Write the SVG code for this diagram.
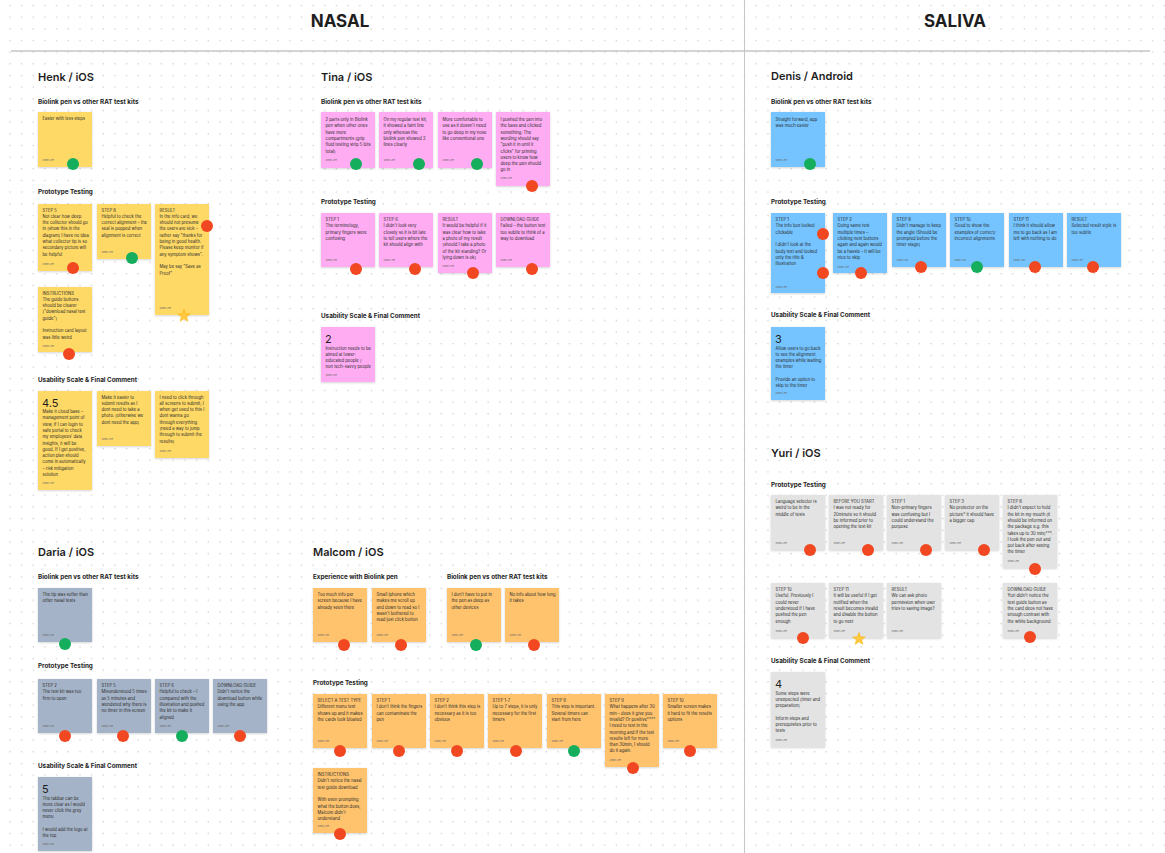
<svg xmlns="http://www.w3.org/2000/svg" width="1165" height="853" viewBox="0 0 1165 853">
<defs>
<pattern id="grid" width="11.66" height="11.66" patternUnits="userSpaceOnUse"><circle cx="10" cy="5.5" r="0.75" fill="#c9c9c9"/></pattern>
<filter id="sh" x="-10%" y="-10%" width="120%" height="130%"><feDropShadow dx="0" dy="0.8" stdDeviation="0.9" flood-color="#000" flood-opacity="0.18"/></filter>
<path id="star" d="M0,-6.5 L1.59,-2.18 L6.18,-2.01 L2.57,0.83 L3.82,5.26 L0,2.7 L-3.82,5.26 L-2.57,0.83 L-6.18,-2.01 L-1.59,-2.18 Z"/>
<style>
text{font-family:Inter,"Liberation Sans",sans-serif}
.h1{font-size:17px;font-weight:700;fill:#1e1e1e;text-anchor:middle}
.nm{font-size:11px;font-weight:600;fill:#1e1e1e}
.sec{font-size:6.3px;font-weight:700;fill:#1e1e1e}
.nt{font-size:4.2px;fill:#2a2a2a}
.num{font-size:11px;fill:#1e1e1e}
.au{font-size:2.6px;fill:#666}
.n{filter:url(#sh)}
.yl{fill:#FFD966}
.pk{fill:#FFACF2}
.bl{fill:#74C4FF}
.gy{fill:#E3E3E3}
.sl{fill:#A5B3C8}
.or{fill:#FFC36E}
.r{fill:#F24822}
.g{fill:#14AE5C}
.st{fill:#FFC943;stroke:#F5B400;stroke-width:0.6;stroke-linejoin:round}
.ln{stroke:#c6c6c6;fill:none}
</style>
</defs>
<rect width="1165" height="853" fill="#fff"/>
<rect width="1165" height="853" fill="url(#grid)"/>
<g id="frame">
<line class="ln" x1="11" y1="51" x2="1150" y2="51" stroke-width="1.5"/>
<line class="ln" x1="744.5" y1="0" x2="744.5" y2="853" stroke-width="1"/>
<text class="h1" x="340" y="27">NASAL</text>
<text class="h1" x="955" y="27">SALIVA</text>
</g>
<g id="connectors"></g>

<!-- HENK -->
<g id="henk-titles">
<text class="nm" x="38" y="81">Henk / iOS</text>
<text class="sec" x="38" y="104">Biolink pen vs other RAT test kits</text>
<text class="sec" x="38" y="194">Prototype Testing</text>
<text class="sec" x="38" y="382">Usability Scale &amp; Final Comment</text>
</g>
<g id="henk-b1"><rect class="n yl" x="38" y="112" width="54" height="55"/>
<text class="nt" x="42.5" y="119.5">Easier with less steps</text>
<text class="au" x="42.5" y="161">Sean Lee</text><circle class="g" cx="73" cy="164" r="6"/></g>
<g id="henk-p1"><rect class="n yl" x="38" y="204" width="54" height="67"/>
<text class="nt" x="42.5" y="211.5"><tspan x="42.5">STEP 5</tspan><tspan x="42.5" dy="6.3">Not clear how deep</tspan><tspan x="42.5" dy="6.3">the collector should go</tspan><tspan x="42.5" dy="6.3">in (show this in the</tspan><tspan x="42.5" dy="6.3">diagram) I have no idea</tspan><tspan x="42.5" dy="6.3">what collector tip is so</tspan><tspan x="42.5" dy="6.3">secondary picture will</tspan><tspan x="42.5" dy="6.3">be helpful</tspan></text>
<text class="au" x="42.5" y="265">Sean Lee</text><circle class="r" cx="73" cy="268" r="6"/></g>
<g id="henk-p2"><rect class="n yl" x="97" y="204" width="54" height="55"/>
<text class="nt" x="101.5" y="211.5"><tspan x="101.5">STEP 8</tspan><tspan x="101.5" dy="6.3">Helpful to check the</tspan><tspan x="101.5" dy="6.3">correct alignment – the</tspan><tspan x="101.5" dy="6.3">seal is popped when</tspan><tspan x="101.5" dy="6.3">alignment is correct</tspan></text>
<text class="au" x="101.5" y="253">Sean Lee</text><circle class="g" cx="132" cy="258" r="6"/></g>
<g id="henk-p3"><rect class="n yl" x="155" y="204" width="54" height="111"/>
<text class="nt" x="159.5" y="211.5"><tspan x="159.5">RESULT</tspan><tspan x="159.5" dy="6.3">In the info card, we</tspan><tspan x="159.5" dy="6.3">should not presume</tspan><tspan x="159.5" dy="6.3">the users are sick –</tspan><tspan x="159.5" dy="6.3">rather say "thanks for</tspan><tspan x="159.5" dy="6.3">being in good health.</tspan><tspan x="159.5" dy="6.3">Please keep monitor if</tspan><tspan x="159.5" dy="6.3">any symptom shows".</tspan><tspan x="159.5" dy="12.6">May be say "Save as</tspan><tspan x="159.5" dy="6.3">Proof"</tspan></text>
<text class="au" x="159.5" y="309">Sean Lee</text><circle class="r" cx="207" cy="226" r="6"/><use href="#star" class="st" x="184" y="316"/></g>
<g id="henk-i"><rect class="n yl" x="38" y="287" width="54" height="65"/>
<text class="nt" x="42.5" y="294.5"><tspan x="42.5">INSTRUCTIONS</tspan><tspan x="42.5" dy="6.3">The guide buttons</tspan><tspan x="42.5" dy="6.3">should be clearer</tspan><tspan x="42.5" dy="6.3">("download nasal test</tspan><tspan x="42.5" dy="6.3">guide")</tspan><tspan x="42.5" dy="12.6">Instruction card layout</tspan><tspan x="42.5" dy="6.3">was little weird</tspan></text>
<text class="au" x="42.5" y="347">Sean Lee</text><circle class="r" cx="69" cy="354" r="6"/></g>
<g id="henk-u1"><rect class="n yl" x="38" y="391" width="54" height="99"/>
<text class="num" x="42" y="407">4.5</text>
<text class="nt" x="42.5" y="413"><tspan x="42.5">Make it cloud base –</tspan><tspan x="42.5" dy="6.3">management point of</tspan><tspan x="42.5" dy="6.3">view, if I can login to</tspan><tspan x="42.5" dy="6.3">safe portal to check</tspan><tspan x="42.5" dy="6.3">my employees' data</tspan><tspan x="42.5" dy="6.3">insights, it will be</tspan><tspan x="42.5" dy="6.3">good. If I get positive,</tspan><tspan x="42.5" dy="6.3">action plan should</tspan><tspan x="42.5" dy="6.3">come in automatically</tspan><tspan x="42.5" dy="6.3">– risk mitigation</tspan><tspan x="42.5" dy="6.3">solution</tspan></text>
<text class="au" x="42.5" y="484">Sean Lee</text></g>
<g id="henk-u2"><rect class="n yl" x="97" y="391" width="54" height="55"/>
<text class="nt" x="101.5" y="398.5"><tspan x="101.5">Make it easier to</tspan><tspan x="101.5" dy="6.3">submit results as I</tspan><tspan x="101.5" dy="6.3">dont need to take a</tspan><tspan x="101.5" dy="6.3">photo. (otherwise we</tspan><tspan x="101.5" dy="6.3">dont need the app)</tspan></text>
<text class="au" x="101.5" y="440">Sean Lee</text></g>
<g id="henk-u3"><rect class="n yl" x="155" y="391" width="54" height="67"/>
<text class="nt" x="159.5" y="398.5"><tspan x="159.5">I need to click through</tspan><tspan x="159.5" dy="6.3">all screens to submit; I</tspan><tspan x="159.5" dy="6.3">when get used to this I</tspan><tspan x="159.5" dy="6.3">dont wanna go</tspan><tspan x="159.5" dy="6.3">through everything</tspan><tspan x="159.5" dy="6.3">(need a way to jump</tspan><tspan x="159.5" dy="6.3">through to submit the</tspan><tspan x="159.5" dy="6.3">results)</tspan></text>
<text class="au" x="159.5" y="452">Sean Lee</text></g>

<!-- TINA -->
<g id="tina-titles">
<text class="nm" x="321" y="81">Tina / iOS</text>
<text class="sec" x="321" y="104">Biolink pen vs other RAT test kits</text>
<text class="sec" x="321" y="204">Prototype Testing</text>
<text class="sec" x="321" y="318">Usability Scale &amp; Final Comment</text>
</g>
<g id="tina-b1"><rect class="n pk" x="321" y="112" width="54" height="56"/>
<text class="nt" x="325.5" y="121"><tspan x="325.5">2 parts only in Biolink</tspan><tspan x="325.5" dy="6.3">pen when other ones</tspan><tspan x="325.5" dy="6.3">have more</tspan><tspan x="325.5" dy="6.3">compartments (grip</tspan><tspan x="325.5" dy="6.3">fluid testing strip 5 bits</tspan><tspan x="325.5" dy="6.3">total)</tspan></text>
<text class="au" x="325.5" y="161">Sean Lee</text><circle class="g" cx="356" cy="164" r="6"/></g>
<g id="tina-b2"><rect class="n pk" x="379" y="112" width="54" height="56"/>
<text class="nt" x="383.5" y="121"><tspan x="383.5">On my regular test kit,</tspan><tspan x="383.5" dy="6.3">it showed a faint line</tspan><tspan x="383.5" dy="6.3">only whereas the</tspan><tspan x="383.5" dy="6.3">biolink pen showed 2</tspan><tspan x="383.5" dy="6.3">lines clearly</tspan></text>
<text class="au" x="383.5" y="161">Sean Lee</text><circle class="g" cx="419" cy="164" r="6"/></g>
<g id="tina-b3"><rect class="n pk" x="438" y="112" width="54" height="56"/>
<text class="nt" x="442.5" y="121"><tspan x="442.5">More comfortable to</tspan><tspan x="442.5" dy="6.3">use as it doesn't need</tspan><tspan x="442.5" dy="6.3">to go deep in my nose</tspan><tspan x="442.5" dy="6.3">like conventional one</tspan></text>
<text class="au" x="442.5" y="161">Sean Lee</text><circle class="g" cx="477" cy="164" r="6"/></g>
<g id="tina-b4"><rect class="n pk" x="496" y="112" width="54" height="74"/>
<text class="nt" x="500.5" y="121"><tspan x="500.5">I pushed the pen into</tspan><tspan x="500.5" dy="6.3">the base and clicked</tspan><tspan x="500.5" dy="6.3">something. The</tspan><tspan x="500.5" dy="6.3">wording should say</tspan><tspan x="500.5" dy="6.3">"push it in until it</tspan><tspan x="500.5" dy="6.3">clicks" for priming</tspan><tspan x="500.5" dy="6.3">users to know how</tspan><tspan x="500.5" dy="6.3">deep the pen should</tspan><tspan x="500.5" dy="6.3">go in</tspan></text>
<text class="au" x="500.5" y="179">Sean Lee</text><circle class="r" cx="532" cy="186" r="6"/></g>
<g id="tina-p1"><rect class="n pk" x="321" y="213" width="54" height="54"/>
<text class="nt" x="325.5" y="221"><tspan x="325.5">STEP 1</tspan><tspan x="325.5" dy="6.3">The terminology,</tspan><tspan x="325.5" dy="6.3">primary fingers were</tspan><tspan x="325.5" dy="6.3">confusing</tspan></text>
<text class="au" x="325.5" y="261">Sean Lee</text><circle class="r" cx="356" cy="269" r="6"/></g>
<g id="tina-p2"><rect class="n pk" x="379" y="213" width="54" height="54"/>
<text class="nt" x="383.5" y="221"><tspan x="383.5">STEP 6</tspan><tspan x="383.5" dy="6.3">I didn't look very</tspan><tspan x="383.5" dy="6.3">closely so it is bit late</tspan><tspan x="383.5" dy="6.3">to tell users where the</tspan><tspan x="383.5" dy="6.3">kit should align with</tspan></text>
<text class="au" x="383.5" y="261">Sean Lee</text><circle class="r" cx="415" cy="269" r="6"/></g>
<g id="tina-p3"><rect class="n pk" x="438" y="213" width="54" height="60"/>
<text class="nt" x="442.5" y="221"><tspan x="442.5">RESULT</tspan><tspan x="442.5" dy="6.3">It would be helpful if it</tspan><tspan x="442.5" dy="6.3">was clear how to take</tspan><tspan x="442.5" dy="6.3">a photo of my result</tspan><tspan x="442.5" dy="6.3">(should I take a photo</tspan><tspan x="442.5" dy="6.3">of the kit standing? Or</tspan><tspan x="442.5" dy="6.3">lying down is ok)</tspan></text>
<text class="au" x="442.5" y="267">Sean Lee</text><circle class="r" cx="473" cy="273" r="6"/></g>
<g id="tina-p4"><rect class="n pk" x="496" y="213" width="54" height="54"/>
<text class="nt" x="500.5" y="221"><tspan x="500.5">DOWNLOAD GUIDE</tspan><tspan x="500.5" dy="6.3">Failed – the button text</tspan><tspan x="500.5" dy="6.3">too subtle to think of a</tspan><tspan x="500.5" dy="6.3">way to download</tspan></text>
<text class="au" x="500.5" y="261">Sean Lee</text><circle class="r" cx="532" cy="269" r="6"/></g>
<g id="tina-u"><rect class="n pk" x="321" y="327" width="54" height="55"/>
<text class="num" x="325" y="343">2</text>
<text class="nt" x="325.5" y="349.5"><tspan x="325.5">Instruction needs to be</tspan><tspan x="325.5" dy="6.3">aimed at lower-</tspan><tspan x="325.5" dy="6.3">educated people /</tspan><tspan x="325.5" dy="6.3">non tech-savvy people</tspan></text>
<text class="au" x="325.5" y="376">Sean Lee</text></g>

<!-- DENIS -->
<g id="denis-titles">
<text class="nm" x="771" y="80">Denis / Android</text>
<text class="sec" x="771" y="104">Biolink pen vs other RAT test kits</text>
<text class="sec" x="771" y="204">Prototype Testing</text>
<text class="sec" x="771" y="317">Usability Scale &amp; Final Comment</text>
</g>
<g id="denis-b"><rect class="n bl" x="771" y="112" width="54" height="55"/>
<text class="nt" x="775.5" y="121"><tspan x="775.5">Straight forward, app</tspan><tspan x="775.5" dy="6.3">was much easier</tspan></text>
<text class="au" x="775.5" y="161">Sean Lee</text><circle class="g" cx="810" cy="164" r="6"/></g>
<g id="denis-p1"><rect class="n bl" x="771" y="213" width="54" height="80"/>
<text class="nt" x="775.5" y="221"><tspan x="775.5">STEP 1</tspan><tspan x="775.5" dy="6.3">The info box looked</tspan><tspan x="775.5" dy="6.3">clickable</tspan><tspan x="775.5" dy="12.6">I didn't look at the</tspan><tspan x="775.5" dy="6.3">body text and looked</tspan><tspan x="775.5" dy="6.3">only the title &amp;</tspan><tspan x="775.5" dy="6.3">illustration</tspan></text>
<text class="au" x="775.5" y="288">Sean Lee</text><circle class="r" cx="823" cy="234" r="6"/><circle class="r" cx="823" cy="273" r="6"/></g>
<g id="denis-p2"><rect class="n bl" x="833" y="213" width="54" height="60"/>
<text class="nt" x="837.5" y="221"><tspan x="837.5">STEP 2</tspan><tspan x="837.5" dy="6.3">Doing same test</tspan><tspan x="837.5" dy="6.3">multiple times –</tspan><tspan x="837.5" dy="6.3">clicking next buttons</tspan><tspan x="837.5" dy="6.3">again and again would</tspan><tspan x="837.5" dy="6.3">be a hassle – it will be</tspan><tspan x="837.5" dy="6.3">nice to skip</tspan></text>
<text class="au" x="837.5" y="268">Sean Lee</text><circle class="r" cx="861" cy="273" r="6"/></g>
<g id="denis-p3"><rect class="n bl" x="892" y="213" width="54" height="54"/>
<text class="nt" x="896.5" y="221"><tspan x="896.5">STEP 8</tspan><tspan x="896.5" dy="6.3">Didn't manage to keep</tspan><tspan x="896.5" dy="6.3">the angle (Should be</tspan><tspan x="896.5" dy="6.3">prompted before the</tspan><tspan x="896.5" dy="6.3">timer stage)</tspan></text>
<text class="au" x="896.5" y="261">Sean Lee</text><circle class="r" cx="921" cy="267" r="6"/></g>
<g id="denis-p4"><rect class="n bl" x="950" y="213" width="54" height="54"/>
<text class="nt" x="954.5" y="221"><tspan x="954.5">STEP 10</tspan><tspan x="954.5" dy="6.3">Good to show the</tspan><tspan x="954.5" dy="6.3">examples of correct/</tspan><tspan x="954.5" dy="6.3">incorrect alignments</tspan></text>
<text class="au" x="954.5" y="261">Sean Lee</text><circle class="g" cx="977" cy="267" r="6"/></g>
<g id="denis-p5"><rect class="n bl" x="1009" y="213" width="54" height="54"/>
<text class="nt" x="1013.5" y="221"><tspan x="1013.5">STEP 11</tspan><tspan x="1013.5" dy="6.3">I think it should allow</tspan><tspan x="1013.5" dy="6.3">me to go back as I am</tspan><tspan x="1013.5" dy="6.3">left with nothing to do</tspan></text>
<text class="au" x="1013.5" y="261">Sean Lee</text><circle class="r" cx="1035" cy="267" r="6"/></g>
<g id="denis-p6"><rect class="n bl" x="1067" y="213" width="54" height="54"/>
<text class="nt" x="1071.5" y="221"><tspan x="1071.5">RESULT</tspan><tspan x="1071.5" dy="6.3">Selected result style is</tspan><tspan x="1071.5" dy="6.3">too subtle</tspan></text>
<text class="au" x="1071.5" y="261">Sean Lee</text><circle class="r" cx="1093" cy="267" r="6"/></g>
<g id="denis-u"><rect class="n bl" x="771" y="327" width="54" height="73"/>
<text class="num" x="775" y="343">3</text>
<text class="nt" x="775.5" y="349.5"><tspan x="775.5">Allow users to go back</tspan><tspan x="775.5" dy="6.3">to see the alignment</tspan><tspan x="775.5" dy="6.3">examples while waiting</tspan><tspan x="775.5" dy="6.3">the timer</tspan><tspan x="775.5" dy="12.6">Provide an option to</tspan><tspan x="775.5" dy="6.3">skip to the timer</tspan></text>
<text class="au" x="775.5" y="394">Sean Lee</text></g>

<!-- YURI -->
<g id="yuri-titles">
<text class="nm" x="771" y="457">Yuri / iOS</text>
<text class="sec" x="771" y="487">Prototype Testing</text>
<text class="sec" x="771" y="663">Usability Scale &amp; Final Comment</text>
</g>
<g id="yuri-1"><rect class="n gy" x="771" y="495" width="54" height="55"/>
<text class="nt" x="775.5" y="503"><tspan x="775.5">Language selector is</tspan><tspan x="775.5" dy="6.3">weird to be in the</tspan><tspan x="775.5" dy="6.3">middle of tests</tspan></text>
<text class="au" x="775.5" y="544">Sean Lee</text><circle class="r" cx="810" cy="550" r="6"/></g>
<g id="yuri-2"><rect class="n gy" x="829" y="495" width="54" height="55"/>
<text class="nt" x="833.5" y="503"><tspan x="833.5">BEFORE YOU START</tspan><tspan x="833.5" dy="6.3">I was not ready for</tspan><tspan x="833.5" dy="6.3">20minute so it should</tspan><tspan x="833.5" dy="6.3">be informed prior to</tspan><tspan x="833.5" dy="6.3">opening the test kit</tspan></text>
<text class="au" x="833.5" y="544">Sean Lee</text><circle class="r" cx="868" cy="550" r="6"/></g>
<g id="yuri-3"><rect class="n gy" x="887" y="495" width="54" height="55"/>
<text class="nt" x="891.5" y="503"><tspan x="891.5">STEP 1</tspan><tspan x="891.5" dy="6.3">Non-primary fingers</tspan><tspan x="891.5" dy="6.3">was confusing but I</tspan><tspan x="891.5" dy="6.3">could understand the</tspan><tspan x="891.5" dy="6.3">purpose</tspan></text>
<text class="au" x="891.5" y="544">Sean Lee</text><circle class="r" cx="926" cy="550" r="6"/></g>
<g id="yuri-4"><rect class="n gy" x="945" y="495" width="54" height="55"/>
<text class="nt" x="949.5" y="503"><tspan x="949.5">STEP 3</tspan><tspan x="949.5" dy="6.3">No protector on the</tspan><tspan x="949.5" dy="6.3">picture* it should have</tspan><tspan x="949.5" dy="6.3">a bigger cap</tspan></text>
<text class="au" x="949.5" y="544">Sean Lee</text><circle class="r" cx="984" cy="550" r="6"/></g>
<g id="yuri-5"><rect class="n gy" x="1003" y="495" width="54" height="73"/>
<text class="nt" x="1007.5" y="503"><tspan x="1007.5">STEP 8</tspan><tspan x="1007.5" dy="6.3">I didn't expect to hold</tspan><tspan x="1007.5" dy="6.3">the kit in my mouth (it</tspan><tspan x="1007.5" dy="6.3">should be informed on</tspan><tspan x="1007.5" dy="6.3">the package e.g. this</tspan><tspan x="1007.5" dy="6.3">takes up to 30 min)***.</tspan><tspan x="1007.5" dy="6.3">I took the pen out and</tspan><tspan x="1007.5" dy="6.3">put back after seeing</tspan><tspan x="1007.5" dy="6.3">the timer</tspan></text>
<text class="au" x="1007.5" y="562">Sean Lee</text><circle class="r" cx="1035" cy="569" r="6"/></g>
<g id="yuri-6"><rect class="n gy" x="771" y="583" width="54" height="55"/>
<text class="nt" x="775.5" y="591"><tspan x="775.5">STEP 10</tspan><tspan x="775.5" dy="6.3">Useful. Previously I</tspan><tspan x="775.5" dy="6.3">could never</tspan><tspan x="775.5" dy="6.3">understood if I have</tspan><tspan x="775.5" dy="6.3">pushed the pen</tspan><tspan x="775.5" dy="6.3">enough</tspan></text>
<text class="au" x="775.5" y="632">Sean Lee</text><circle class="r" cx="803" cy="638" r="6"/></g>
<g id="yuri-7"><rect class="n gy" x="829" y="583" width="54" height="55"/>
<text class="nt" x="833.5" y="591"><tspan x="833.5">STEP 11</tspan><tspan x="833.5" dy="6.3">It will be useful if I get</tspan><tspan x="833.5" dy="6.3">notified when the</tspan><tspan x="833.5" dy="6.3">result becomes invalid</tspan><tspan x="833.5" dy="6.3">and disable the button</tspan><tspan x="833.5" dy="6.3">to go next</tspan></text>
<text class="au" x="833.5" y="632">Sean Lee</text><use href="#star" class="st" x="859" y="639"/></g>
<g id="yuri-8"><rect class="n gy" x="887" y="583" width="54" height="55"/>
<text class="nt" x="891.5" y="591"><tspan x="891.5">RESULT</tspan><tspan x="891.5" dy="6.3">We can ask photo</tspan><tspan x="891.5" dy="6.3">permission when user</tspan><tspan x="891.5" dy="6.3">tries to saving image?</tspan></text>
<text class="au" x="891.5" y="632">Sean Lee</text></g>
<g id="yuri-9"><rect class="n gy" x="1003" y="583" width="54" height="55"/>
<text class="nt" x="1007.5" y="591"><tspan x="1007.5">DOWNLOAD GUIDE</tspan><tspan x="1007.5" dy="6.3">Yuri didn't notice the</tspan><tspan x="1007.5" dy="6.3">test guide button as</tspan><tspan x="1007.5" dy="6.3">the card deos not have</tspan><tspan x="1007.5" dy="6.3">enough contrast with</tspan><tspan x="1007.5" dy="6.3">the white background</tspan></text>
<text class="au" x="1007.5" y="632">Sean Lee</text><circle class="r" cx="1030" cy="637" r="6"/></g>
<g id="yuri-u"><rect class="n gy" x="771" y="672" width="54" height="75"/>
<text class="num" x="775" y="688">4</text>
<text class="nt" x="775.5" y="694.5"><tspan x="775.5">Some steps were</tspan><tspan x="775.5" dy="6.3">unexpected (timer and</tspan><tspan x="775.5" dy="6.3">preparation)</tspan><tspan x="775.5" dy="12.6">Inform steps and</tspan><tspan x="775.5" dy="6.3">prerequisites prior to</tspan><tspan x="775.5" dy="6.3">tests</tspan></text>
<text class="au" x="775.5" y="741">Sean Lee</text></g>

<!-- DARIA -->
<g id="daria-titles">
<text class="nm" x="38" y="556">Daria / iOS</text>
<text class="sec" x="38" y="579">Biolink pen vs other RAT test kits</text>
<text class="sec" x="38" y="668">Prototype Testing</text>
<text class="sec" x="38" y="768">Usability Scale &amp; Final Comment</text>
</g>
<g id="daria-b"><rect class="n sl" x="38" y="588" width="54" height="54"/>
<text class="nt" x="42.5" y="596"><tspan x="42.5">The tip was softer than</tspan><tspan x="42.5" dy="6.3">other nasal tests</tspan></text>
<text class="au" x="42.5" y="636">Sean Lee</text><circle class="g" cx="65" cy="644" r="6"/></g>
<g id="daria-p1"><rect class="n sl" x="38" y="679" width="54" height="54"/>
<text class="nt" x="42.5" y="687"><tspan x="42.5">STEP 2</tspan><tspan x="42.5" dy="6.3">The test kit was too</tspan><tspan x="42.5" dy="6.3">firm to open</tspan></text>
<text class="au" x="42.5" y="727">Sean Lee</text><circle class="r" cx="65" cy="736" r="6"/></g>
<g id="daria-p2"><rect class="n sl" x="97" y="679" width="54" height="54"/>
<text class="nt" x="101.5" y="687"><tspan x="101.5">STEP 5</tspan><tspan x="101.5" dy="6.3">Misunderstood 5 times</tspan><tspan x="101.5" dy="6.3">as 5 minutes and</tspan><tspan x="101.5" dy="6.3">wondered why there is</tspan><tspan x="101.5" dy="6.3">no timer in this screen</tspan></text>
<text class="au" x="101.5" y="727">Sean Lee</text><circle class="r" cx="123" cy="736" r="6"/></g>
<g id="daria-p3"><rect class="n sl" x="155" y="679" width="54" height="54"/>
<text class="nt" x="159.5" y="687"><tspan x="159.5">STEP 6</tspan><tspan x="159.5" dy="6.3">Helpful to check – I</tspan><tspan x="159.5" dy="6.3">compared with the</tspan><tspan x="159.5" dy="6.3">illustration and pushed</tspan><tspan x="159.5" dy="6.3">the kit to make it</tspan><tspan x="159.5" dy="6.3">aligned</tspan></text>
<text class="au" x="159.5" y="727">Sean Lee</text><circle class="g" cx="182" cy="736" r="6"/></g>
<g id="daria-p4"><rect class="n sl" x="213" y="679" width="54" height="54"/>
<text class="nt" x="217.5" y="687"><tspan x="217.5">DOWNLOAD GUIDE</tspan><tspan x="217.5" dy="6.3">Didn't notice the</tspan><tspan x="217.5" dy="6.3">download button while</tspan><tspan x="217.5" dy="6.3">using the app</tspan></text>
<text class="au" x="217.5" y="727">Sean Lee</text><circle class="r" cx="240" cy="736" r="6"/></g>
<g id="daria-u"><rect class="n sl" x="38" y="777" width="54" height="74"/>
<text class="num" x="42" y="793">5</text>
<text class="nt" x="42.5" y="799.5"><tspan x="42.5">The tabbar can be</tspan><tspan x="42.5" dy="6.3">more clear as I would</tspan><tspan x="42.5" dy="6.3">never click the grey</tspan><tspan x="42.5" dy="6.3">menu</tspan><tspan x="42.5" dy="12.6">I would add the logo at</tspan><tspan x="42.5" dy="6.3">the top</tspan></text>
<text class="au" x="42.5" y="845">Sean Lee</text></g>

<!-- MALCOM -->
<g id="malcom-titles">
<text class="nm" x="313" y="556">Malcom / iOS</text>
<text class="sec" x="313" y="579">Experience with Biolink pen</text>
<text class="sec" x="447" y="579">Biolink pen vs other RAT test kits</text>
<text class="sec" x="313" y="685">Prototype Testing</text>
</g>
<g id="malcom-e1"><rect class="n or" x="313" y="588" width="54" height="54"/>
<text class="nt" x="317.5" y="596"><tspan x="317.5">Too much info per</tspan><tspan x="317.5" dy="6.3">screen because I have</tspan><tspan x="317.5" dy="6.3">already seen there</tspan></text>
<text class="au" x="317.5" y="636">Sean Lee</text><circle class="r" cx="344" cy="645" r="6"/></g>
<g id="malcom-e2"><rect class="n or" x="372" y="588" width="54" height="54"/>
<text class="nt" x="376.5" y="596"><tspan x="376.5">Small iphone which</tspan><tspan x="376.5" dy="6.3">makes me scroll up</tspan><tspan x="376.5" dy="6.3">and down to read so I</tspan><tspan x="376.5" dy="6.3">wasn't bothered to</tspan><tspan x="376.5" dy="6.3">read just click button</tspan></text>
<text class="au" x="376.5" y="636">Sean Lee</text><circle class="r" cx="401" cy="645" r="6"/></g>
<g id="malcom-b1"><rect class="n or" x="447" y="588" width="54" height="54"/>
<text class="nt" x="451.5" y="596"><tspan x="451.5">I don't have to put in</tspan><tspan x="451.5" dy="6.3">the pen as deep  as</tspan><tspan x="451.5" dy="6.3">other devices</tspan></text>
<text class="au" x="451.5" y="636">Sean Lee</text><circle class="g" cx="476" cy="645" r="6"/></g>
<g id="malcom-b2"><rect class="n or" x="505" y="588" width="54" height="54"/>
<text class="nt" x="509.5" y="596"><tspan x="509.5">No info about how long</tspan><tspan x="509.5" dy="6.3">it takes</tspan></text>
<text class="au" x="509.5" y="636">Sean Lee</text><circle class="r" cx="534" cy="645" r="6"/></g>
<g id="malcom-p1"><rect class="n or" x="313" y="694" width="54" height="54"/>
<text class="nt" x="317.5" y="702"><tspan x="317.5">SELECT A TEST TYPE</tspan><tspan x="317.5" dy="6.3">Different menu text</tspan><tspan x="317.5" dy="6.3">shows up and it makes</tspan><tspan x="317.5" dy="6.3">the cards look bloated</tspan></text>
<text class="au" x="317.5" y="742">Sean Lee</text><circle class="r" cx="340" cy="751" r="6"/></g>
<g id="malcom-p2"><rect class="n or" x="372" y="694" width="54" height="54"/>
<text class="nt" x="376.5" y="702"><tspan x="376.5">STEP 1</tspan><tspan x="376.5" dy="6.3">I don't think the fingers</tspan><tspan x="376.5" dy="6.3">can contaminate the</tspan><tspan x="376.5" dy="6.3">pen</tspan></text>
<text class="au" x="376.5" y="742">Sean Lee</text><circle class="r" cx="399" cy="751" r="6"/></g>
<g id="malcom-p3"><rect class="n or" x="430" y="694" width="54" height="54"/>
<text class="nt" x="434.5" y="702"><tspan x="434.5">STEP 2</tspan><tspan x="434.5" dy="6.3">I don't think this step is</tspan><tspan x="434.5" dy="6.3">necessary as it is too</tspan><tspan x="434.5" dy="6.3">obvious</tspan></text>
<text class="au" x="434.5" y="742">Sean Lee</text><circle class="r" cx="457" cy="751" r="6"/></g>
<g id="malcom-p4"><rect class="n or" x="488" y="694" width="54" height="54"/>
<text class="nt" x="492.5" y="702"><tspan x="492.5">STEP 1-7</tspan><tspan x="492.5" dy="6.3">Up to 7 steps, it is only</tspan><tspan x="492.5" dy="6.3">necessary for the first</tspan><tspan x="492.5" dy="6.3">timers</tspan></text>
<text class="au" x="492.5" y="742">Sean Lee</text><circle class="r" cx="516" cy="751" r="6"/></g>
<g id="malcom-p5"><rect class="n or" x="547" y="694" width="54" height="54"/>
<text class="nt" x="551.5" y="702"><tspan x="551.5">STEP 9</tspan><tspan x="551.5" dy="6.3">This step is important.</tspan><tspan x="551.5" dy="6.3">Several timers can</tspan><tspan x="551.5" dy="6.3">start from here</tspan></text>
<text class="au" x="551.5" y="742">Sean Lee</text><circle class="g" cx="574" cy="751" r="6"/></g>
<g id="malcom-p6"><rect class="n or" x="605" y="694" width="54" height="73"/>
<text class="nt" x="609.5" y="702"><tspan x="609.5">STEP 9</tspan><tspan x="609.5" dy="6.3">What happens after 30</tspan><tspan x="609.5" dy="6.3">min – does it give you</tspan><tspan x="609.5" dy="6.3">invalid? Or positive****</tspan><tspan x="609.5" dy="6.3">I need to test in the</tspan><tspan x="609.5" dy="6.3">morning and if the test</tspan><tspan x="609.5" dy="6.3">results left for more</tspan><tspan x="609.5" dy="6.3">than 30min, I should</tspan><tspan x="609.5" dy="6.3">do it again.</tspan></text>
<text class="au" x="609.5" y="761">Sean Lee</text><circle class="r" cx="633" cy="768" r="6"/></g>
<g id="malcom-p7"><rect class="n or" x="663" y="694" width="54" height="54"/>
<text class="nt" x="667.5" y="702"><tspan x="667.5">STEP 10</tspan><tspan x="667.5" dy="6.3">Smaller screen makes</tspan><tspan x="667.5" dy="6.3">it hard to fit the results</tspan><tspan x="667.5" dy="6.3">options</tspan></text>
<text class="au" x="667.5" y="742">Sean Lee</text><circle class="r" cx="690" cy="751" r="6"/></g>
<g id="malcom-i"><rect class="n or" x="313" y="768" width="54" height="65"/>
<text class="nt" x="317.5" y="776"><tspan x="317.5">INSTRUCTIONS</tspan><tspan x="317.5" dy="6.3">Didn't notice the nasal</tspan><tspan x="317.5" dy="6.3">test guide download</tspan><tspan x="317.5" dy="12.6">With even prompting</tspan><tspan x="317.5" dy="6.3">what the button does,</tspan><tspan x="317.5" dy="6.3">Malcom didn't</tspan><tspan x="317.5" dy="6.3">understand</tspan></text>
<text class="au" x="317.5" y="827">Sean Lee</text><circle class="r" cx="340" cy="834" r="6"/></g>
</svg>
